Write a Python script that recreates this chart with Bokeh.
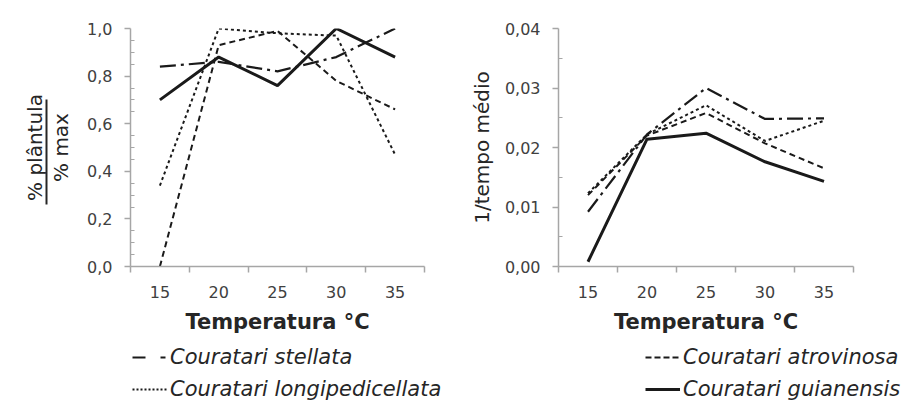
from bokeh.plotting import figure
from bokeh.models import (Range1d, FixedTicker, CustomJSTickFormatter, LinearAxis,
                          Legend, LegendItem)
from bokeh.layouts import column, row
from bokeh.embed import file_html
from bokeh.resources import INLINE

# ---------------- data ----------------
temps = [15, 20, 25, 30, 35]

# % plantula / % max
pl_stellata = [0.84, 0.86, 0.82, 0.88, 1.00]
pl_atrovinosa = [0.00, 0.93, 0.99, 0.78, 0.66]
pl_longipedicellata = [0.34, 1.00, 0.98, 0.97, 0.47]
pl_guianensis = [0.70, 0.88, 0.76, 1.00, 0.88]

# 1 / tempo medio
tm_stellata = [0.0092, 0.0222, 0.0300, 0.0248, 0.0249]
tm_atrovinosa = [0.0120, 0.0220, 0.0258, 0.0207, 0.0165]
tm_longipedicellata = [0.0123, 0.0222, 0.0271, 0.0211, 0.0245]
tm_guianensis = [0.0008, 0.0214, 0.0224, 0.0176, 0.0143]

left_yticks = [0.0, 0.2, 0.4, 0.6, 0.8, 1.0]
right_yticks = [0.0, 0.01, 0.02, 0.03, 0.04]

names = ["Couratari stellata", "Couratari atrovinosa",
         "Couratari longipedicellata", "Couratari guianensis"]

# ---------------- styles ----------------
LINE = "#1a1a1a"
AXIS = "#a6a6a6"
TICKLBL = "#404040"
TITLE = "#262626"
FONT = "DejaVu Sans"
styles = {
    "Couratari stellata": dict(line_width=2.2, line_dash="16 5 3 5"),
    "Couratari atrovinosa": dict(line_width=2.0, line_dash="6 4"),
    "Couratari longipedicellata": dict(line_width=2.0, line_dash="3 3"),
    "Couratari guianensis": dict(line_width=3.0, line_dash="solid"),
}
legend_styles = {
    "Couratari stellata": dict(line_width=2.2, line_dash="13 15 5 10"),
    "Couratari atrovinosa": dict(line_width=2.0, line_dash="6 3"),
    "Couratari longipedicellata": dict(line_width=2.0, line_dash="2 2"),
    "Couratari guianensis": dict(line_width=3.0, line_dash="solid"),
}

minor_x = [12.5, 17.5, 22.5, 27.5, 32.5, 37.5]


def base_fig(width, border_left, border_right, y_end, yticks, yminor, fmt):
    p = figure(width=width, height=336, output_backend="svg", toolbar_location=None,
               x_range=Range1d(12.5, 37.5), y_range=Range1d(0, y_end),
               min_border_left=border_left, min_border_right=border_right,
               min_border_top=28, min_border_bottom=69,
               outline_line_color=None, background_fill_color="white",
               border_fill_color="white")
    p.grid.visible = False
    xa = p.xaxis[0]
    xa.ticker = FixedTicker(ticks=temps, minor_ticks=minor_x)
    xa.major_tick_line_color = None
    xa.major_tick_out = 0
    xa.major_tick_in = 0
    xa.minor_tick_line_color = AXIS
    xa.minor_tick_line_width = 1.5
    xa.minor_tick_out = 6
    xa.minor_tick_in = 0
    xa.axis_line_color = AXIS
    xa.axis_line_width = 1.5
    xa.major_label_text_font = FONT
    xa.major_label_text_font_size = "16px"
    xa.major_label_text_color = TICKLBL
    xa.major_label_standoff = 13
    xa.axis_label = "Temperatura °C"
    xa.axis_label_text_font = FONT
    xa.axis_label_text_font_style = "bold"
    xa.axis_label_text_font_size = "21px"
    xa.axis_label_text_color = TITLE
    xa.axis_label_standoff = 9

    ya = p.yaxis[0]
    ya.ticker = FixedTicker(ticks=yticks, minor_ticks=yminor)
    ya.formatter = CustomJSTickFormatter(code=fmt)
    ya.major_tick_line_color = AXIS
    ya.major_tick_line_width = 1.5
    ya.major_tick_out = 6
    ya.major_tick_in = 0
    ya.minor_tick_line_color = AXIS
    ya.minor_tick_line_width = 1.2
    ya.minor_tick_in = 4
    ya.minor_tick_out = 0
    ya.axis_line_color = AXIS
    ya.axis_line_width = 1.5
    ya.major_label_text_font = FONT
    ya.major_label_text_font_size = "16px"
    ya.major_label_text_color = TICKLBL
    ya.major_label_standoff = 12
    ya.axis_label_text_font = FONT
    ya.axis_label_text_font_style = "normal"
    ya.axis_label_text_font_size = "20px"
    ya.axis_label_text_color = TITLE
    return p


# ---------------- left plot ----------------
left_minor = [0.05, 0.1, 0.15, 0.25, 0.3, 0.35, 0.45, 0.5, 0.55,
              0.65, 0.7, 0.75, 0.85, 0.9, 0.95]
p1 = base_fig(460, 130, 36, 1.0, left_yticks, left_minor,
              "return tick.toFixed(1).replace('.', ',');")
for nm, vals in zip(names, [pl_stellata, pl_atrovinosa, pl_longipedicellata, pl_guianensis]):
    p1.line(temps, vals, line_color=LINE, **styles[nm])

# fraction label: "% max" on the tick axis, "% plântula" with a bar on an outer axis
p1.yaxis[0].axis_label = "% max"
p1.yaxis[0].axis_label_standoff = 11
frac = LinearAxis(ticker=FixedTicker(ticks=[]), bounds=(0.26, 0.70),
                  axis_line_color=TITLE, axis_line_width=2,
                  major_tick_line_color=None, minor_tick_line_color=None,
                  major_label_text_font_size="0px",
                  axis_label="% plântula", axis_label_standoff=0,
                  axis_label_text_font=FONT, axis_label_text_font_style="normal",
                  axis_label_text_font_size="20px", axis_label_text_color=TITLE)
p1.add_layout(frac, "left")

# ---------------- right plot ----------------
right_minor = [0.005, 0.015, 0.025, 0.035]
p2 = base_fig(446, 98, 53, 0.04, right_yticks, right_minor,
              "return tick.toFixed(2).replace('.', ',');")
for nm, vals in zip(names, [tm_stellata, tm_atrovinosa, tm_longipedicellata, tm_guianensis]):
    p2.line(temps, vals, line_color=LINE, **styles[nm])
p2.yaxis[0].axis_label = "1/tempo médio"
p2.yaxis[0].axis_label_standoff = 8

# ---------------- legend strip ----------------
lf = figure(width=906, height=65, output_backend="svg", toolbar_location=None,
            x_range=Range1d(0, 1), y_range=Range1d(0, 1),
            x_axis_location=None, y_axis_location=None,
            min_border=0, outline_line_color=None)
lf.grid.visible = False
rends = {}
for nm in names:
    # sample lines for the legend only; placed outside the visible range
    rends[nm] = lf.line(x=[-5, -4], y=[-5, -5], line_color=LINE, **legend_styles[nm])


def make_legend(items, x):
    return Legend(items=[LegendItem(label=n, renderers=[rends[n]]) for n in items],
                  location=(x, 0), orientation="vertical",
                  glyph_width=35, glyph_height=22, label_height=22, spacing=8,
                  label_standoff=3, padding=0, margin=0,
                  border_line_color=None, background_fill_alpha=0,
                  label_text_font=FONT, label_text_font_style="italic",
                  label_text_font_size="21px", label_text_color=TITLE)


lf.add_layout(make_legend(["Couratari stellata", "Couratari longipedicellata"], 132))
lf.add_layout(make_legend(["Couratari atrovinosa", "Couratari guianensis"], 645))

layout = column(row(p1, p2), lf)
open("out.html", "w").write(file_html(layout, INLINE))
